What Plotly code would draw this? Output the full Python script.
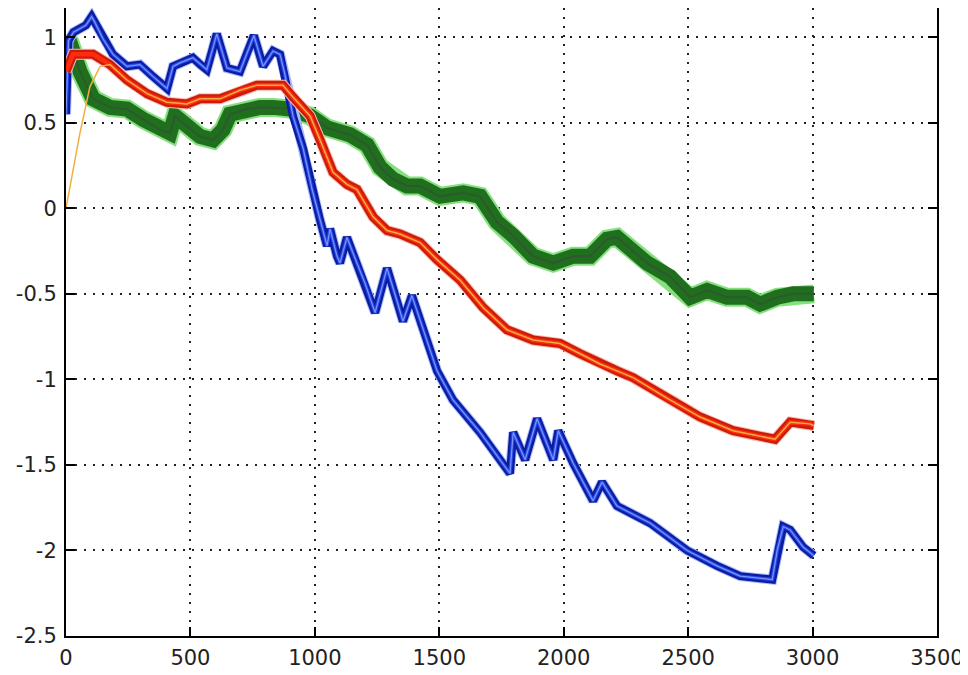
import plotly.graph_objects as go

# ---- data ----
blue_x = [0, 10, 30, 56, 80, 103, 115, 149, 189, 245, 297, 350, 406, 430, 458, 510, 540, 566, 606, 647, 699, 755, 792,
          832, 860, 880, 912, 953, 989, 1021, 1049, 1061, 1089, 1101, 1129, 1153, 1202, 1242, 1290, 1330, 1354, 1390,
          1431, 1491, 1555, 1664, 1784, 1797, 1845, 1893, 1958, 1978, 2038, 2118, 2154, 2214, 2347, 2496, 2616, 2709,
          2838, 2858, 2882, 2910, 2962, 3005]
blue_y = [0.55, 0.98, 1.03, 1.05, 1.07, 1.12, 1.09, 0.99, 0.90, 0.83, 0.84, 0.77, 0.70, 0.83, 0.85, 0.88, 0.84, 0.81,
          1.02, 0.82, 0.80, 1.01, 0.83, 0.92, 0.90, 0.78, 0.54, 0.35, 0.11, -0.07, -0.22, -0.12, -0.28, -0.32, -0.17,
          -0.26, -0.44, -0.61, -0.35, -0.54, -0.66, -0.51, -0.69, -0.95, -1.12, -1.31, -1.55, -1.31, -1.47, -1.23,
          -1.47, -1.30, -1.49, -1.71, -1.60, -1.74, -1.84, -2.00, -2.09, -2.15, -2.17, -2.00, -1.86, -1.88, -1.98, -2.03]

red_x = [0, 28, 60, 109, 177, 245, 326, 406, 486, 539, 619, 699, 768, 808, 872, 912, 981, 1021, 1073, 1129, 1169,
         1234, 1290, 1342, 1423, 1491, 1584, 1676, 1772, 1877, 1985, 2066, 2146, 2214, 2279, 2415, 2548, 2681, 2817,
         2849, 2910, 2990, 3005]
red_y = [0.80, 0.90, 0.90, 0.90, 0.84, 0.75, 0.67, 0.62, 0.61, 0.64, 0.64, 0.69, 0.72, 0.72, 0.72, 0.65, 0.54, 0.40,
         0.21, 0.14, 0.11, -0.05, -0.13, -0.15, -0.20, -0.30, -0.42, -0.58, -0.71, -0.77, -0.79, -0.85, -0.91, -0.95,
         -0.99, -1.11, -1.22, -1.30, -1.34, -1.35, -1.25, -1.26, -1.27]

est_x = [0, 56, 96, 137, 177, 245, 326, 406, 486, 539, 619, 699, 768, 808, 872, 912, 981, 1021, 1073, 1129, 1169,
         1234, 1290, 1342, 1423, 1491, 1584, 1676, 1772, 1877, 1985, 2066, 2146, 2214, 2279, 2415, 2548, 2681, 2817,
         2849, 2910, 2990, 3005]
est_y = [0.0, 0.44, 0.71, 0.83, 0.84, 0.75, 0.67, 0.62, 0.61, 0.64, 0.64, 0.69, 0.72, 0.72, 0.72, 0.65, 0.54, 0.40,
         0.21, 0.14, 0.11, -0.05, -0.13, -0.15, -0.20, -0.30, -0.42, -0.58, -0.71, -0.77, -0.79, -0.85, -0.91, -0.95,
         -0.99, -1.11, -1.22, -1.30, -1.34, -1.35, -1.25, -1.26, -1.27]

green_x = [0, 16, 56, 109, 177, 245, 310, 378, 418, 438, 486, 539, 591, 631, 659, 727, 780, 832, 900, 981, 1049, 1141,
           1210, 1262, 1314, 1370, 1423, 1503, 1596, 1664, 1732, 1797, 1877, 1958, 2038, 2106, 2174, 2214, 2255, 2335,
           2428, 2508, 2576, 2656, 2737, 2789, 2858, 2922, 3005]
green_y = [1.00, 0.97, 0.80, 0.64, 0.59, 0.58, 0.52, 0.46, 0.44, 0.54, 0.48, 0.42, 0.40, 0.46, 0.55, 0.58, 0.59, 0.59,
           0.58, 0.54, 0.47, 0.43, 0.37, 0.24, 0.17, 0.13, 0.13, 0.07, 0.09, 0.07, -0.08, -0.16, -0.28, -0.32, -0.28,
           -0.28, -0.18, -0.17, -0.22, -0.32, -0.40, -0.52, -0.48, -0.52, -0.52, -0.56, -0.52, -0.50, -0.50]

x_ticks = [0, 500, 1000, 1500, 2000, 2500, 3000, 3500]
y_ticks = [-2.5, -2, -1.5, -1, -0.5, 0, 0.5, 1]
y_labels = ["-2.5", "-2", "-1.5", "-1", "-0.5", "0", "0.5", "1"]

fig = go.Figure()

def band(x, y, layers):
    for color, w in layers:
        fig.add_trace(go.Scatter(x=x, y=y, mode="lines", line=dict(color=color, width=w),
                                 hoverinfo="skip", showlegend=False))

band(green_x, green_y, [("#86e07e", 19), ("#1f6f1f", 15), ("#2d5a2d", 2)])
band(blue_x, blue_y, [("#a8bcff", 10), ("#0c1c9c", 8), ("#2447e8", 3.5), ("#7b95ff", 1.2)])
band(red_x, red_y, [("#ffb8a8", 11), ("#c81c0c", 9), ("#ff2a10", 4.5)])
band(est_x, est_y, [("#f0b040", 1.5)])

axis_font = dict(family="DejaVu Sans, Arial, sans-serif", size=21, color="#222222")

fig.update_layout(
    width=960, height=667,
    margin=dict(l=58, r=31, t=0, b=39),
    paper_bgcolor="white", plot_bgcolor="white",
    showlegend=False,
    xaxis=dict(range=[0, 3500], tickvals=x_ticks, ticktext=[str(v) for v in x_ticks],
               showline=True, linecolor="black", linewidth=2, mirror=False,
               ticks="inside", ticklen=9, tickwidth=1.5, tickcolor="black",
               showgrid=True, gridcolor="#222222", gridwidth=1.6, griddash="2px,7px",
               zeroline=False, tickfont=axis_font, ticklabelstandoff=2),
    yaxis=dict(range=[-2.5, 1.171], tickvals=y_ticks, ticktext=y_labels,
               showline=True, linecolor="black", linewidth=2, mirror="ticks",
               ticks="inside", ticklen=9, tickwidth=1.5, tickcolor="black",
               showgrid=True, gridcolor="#222222", gridwidth=1.6, griddash="2px,7px",
               zeroline=False, tickfont=axis_font, ticklabelstandoff=3),
)

fig.write_html("out.html")
